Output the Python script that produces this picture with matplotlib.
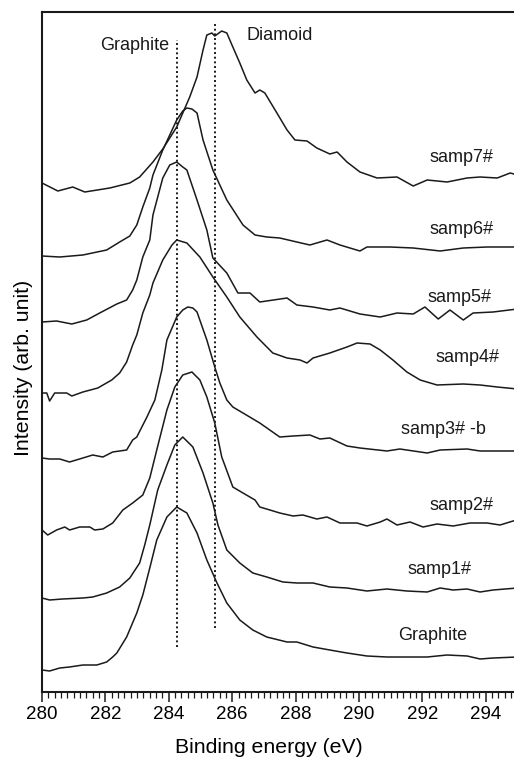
import matplotlib
matplotlib.use("Agg")
import matplotlib.pyplot as plt
from matplotlib.ticker import MultipleLocator

plt.rcParams['font.family'] = ['Liberation Sans', 'DejaVu Sans']

# ---- data: binding energy (eV) and intensity (arb. unit, stacked) ----
e_samp7 = [280.0, 280.50, 280.97, 281.35, 282.14, 282.77, 283.08, 283.50, 283.81, 284.25, 284.66, 284.89,
           285.08, 285.20, 285.36, 285.45, 285.67, 285.83, 286.02, 286.24, 286.46, 286.72, 286.87, 287.03,
           287.41, 287.73, 287.98, 288.36, 288.67, 289.08, 289.31, 289.62, 290.03, 290.57, 291.20, 291.71,
           292.15, 292.78, 293.41, 293.82, 294.36, 294.77, 295.0]
i_samp7 = [509, 501, 505, 500, 504, 509, 515, 530, 543, 565, 595, 615,
           642, 657, 659, 656, 661, 659, 645, 629, 612, 599, 602, 599,
           579, 562, 552, 551, 544, 538, 540, 530, 520, 514, 515, 506,
           512, 510, 514, 515, 514, 519, 517]

e_samp6 = [280.0, 280.56, 281.29, 282.04, 282.45, 282.77, 282.99, 283.18, 283.40, 283.50, 283.81, 284.25,
           284.44, 284.57, 284.73, 284.89, 285.08, 285.39, 285.83, 286.34, 286.72, 287.09, 287.50, 288.04,
           288.45, 288.99, 289.40, 290.03, 290.25, 290.98, 291.71, 292.56, 293.29, 294.04, 295.0]
i_samp6 = [436, 435, 437, 442, 450, 456, 467, 485, 504, 517, 542, 572,
           581, 584, 583, 579, 552, 522, 492, 467, 457, 455, 454, 450,
           447, 452, 447, 441, 445, 445, 444, 441, 444, 445, 445]

e_samp5 = [280.0, 280.46, 280.94, 281.41, 281.82, 282.36, 282.67, 282.86, 282.99, 283.18, 283.40, 283.50,
           283.81, 284.03, 284.25, 284.44, 284.57, 284.89, 285.20, 285.39, 285.83, 286.18, 286.56, 286.87,
           287.73, 288.04, 288.55, 289.08, 289.40, 290.03, 290.67, 291.20, 291.71, 292.08, 292.50, 292.87,
           293.29, 293.60, 294.23, 295.0]
i_samp5 = [370, 371, 368, 372, 379, 388, 392, 402, 412, 435, 452, 477,
           514, 527, 530, 525, 522, 492, 462, 434, 419, 399, 399, 390,
           394, 387, 385, 382, 384, 378, 375, 379, 378, 385, 373, 382,
           372, 379, 380, 383]

e_samp4 = [280.0, 280.15, 280.24, 280.40, 280.78, 280.94, 281.29, 281.76, 282.20, 282.45, 282.67, 282.86,
           282.99, 283.18, 283.40, 283.50, 283.81, 284.10, 284.25, 284.57, 284.98, 285.39, 285.83, 286.24,
           286.78, 287.28, 287.73, 288.14, 288.36, 288.55, 289.08, 289.62, 289.94, 290.35, 290.67, 291.07,
           291.51, 291.93, 292.46, 293.29, 293.82, 294.36, 295.0]
i_samp4 = [299, 299, 291, 299, 299, 296, 300, 304, 312, 319, 330, 347,
           357, 379, 397, 409, 432, 447, 452, 449, 435, 415, 395, 375,
           355, 339, 334, 332, 329, 334, 339, 345, 349, 348, 342, 332,
           320, 312, 307, 308, 307, 305, 303]

e_samp3 = [280.0, 280.24, 280.56, 280.87, 281.29, 281.60, 281.92, 282.23, 282.67, 282.86, 282.99, 283.31,
           283.56, 283.78, 283.94, 284.25, 284.44, 284.60, 284.76, 284.89, 285.20, 285.45, 285.61, 285.83,
           286.02, 286.34, 286.87, 287.50, 287.92, 288.45, 288.77, 289.08, 289.62, 290.03, 290.88, 291.29,
           292.15, 292.56, 293.41, 293.82, 295.0]
i_samp3 = [234, 233, 233, 230, 234, 237, 235, 240, 242, 252, 255, 275,
           292, 322, 352, 375, 382, 385, 384, 380, 352, 325, 309, 292,
           285, 279, 269, 255, 256, 257, 253, 254, 246, 244, 241, 243,
           239, 242, 243, 241, 241]

e_samp2 = [280.0, 280.18, 280.46, 280.72, 280.87, 281.19, 281.51, 281.66, 281.92, 282.23, 282.55, 282.86,
           283.18, 283.40, 283.62, 283.94, 284.19, 284.44, 284.73, 284.98, 285.20, 285.45, 285.67, 286.02,
           286.34, 286.72, 286.87, 287.19, 287.50, 287.92, 288.23, 288.67, 288.99, 289.40, 289.94, 290.25,
           290.67, 290.88, 291.20, 291.61, 292.02, 292.46, 292.97, 293.50, 294.04, 294.45, 294.86, 295.0]
i_samp2 = [162, 157, 162, 165, 162, 165, 165, 162, 163, 169, 182, 189,
           197, 214, 242, 282, 305, 317, 320, 312, 295, 269, 235, 205,
           199, 192, 185, 182, 179, 176, 177, 173, 175, 169, 169, 166,
           170, 173, 167, 170, 165, 168, 166, 169, 169, 167, 171, 172]

e_samp1 = [280.0, 280.24, 280.65, 281.29, 281.60, 282.04, 282.45, 282.77, 283.08, 283.24, 283.40, 283.65,
           283.94, 284.19, 284.44, 284.76, 285.08, 285.39, 285.55, 285.83, 286.24, 286.65, 287.09, 287.60,
           288.04, 288.55, 289.08, 289.62, 290.25, 290.88, 291.51, 292.15, 292.56, 292.97, 293.41, 293.82,
           294.23, 295.0]
i_samp1 = [94, 92, 93, 94, 95, 99, 105, 114, 129, 147, 167, 202,
           227, 247, 255, 245, 219, 189, 167, 142, 129, 119, 115, 110,
           109, 109, 105, 104, 101, 103, 101, 100, 104, 102, 103, 100,
           102, 104]

e_graph = [280.0, 280.24, 280.56, 280.87, 281.29, 281.73, 282.04, 282.23, 282.36, 282.67, 282.99, 283.18,
           283.40, 283.62, 283.94, 284.25, 284.57, 284.89, 285.20, 285.52, 285.83, 286.24, 286.65, 287.09,
           287.73, 288.04, 288.55, 289.08, 289.62, 290.25, 290.88, 292.15, 292.78, 293.41, 293.82, 294.23,
           295.0]
i_graph = [22, 21, 24, 25, 27, 27, 30, 35, 39, 55, 79, 97,
           124, 152, 175, 185, 179, 159, 132, 109, 89, 72, 62, 55,
           50, 50, 45, 42, 39, 36, 35, 35, 37, 36, 33, 34,
           35]

sample_names = ["samp7#", "samp6#", "samp5#", "samp4#", "samp3# -b", "samp2#", "samp1#", "Graphite"]
energies = [e_samp7, e_samp6, e_samp5, e_samp4, e_samp3, e_samp2, e_samp1, e_graph]
intensities = [i_samp7, i_samp6, i_samp5, i_samp4, i_samp3, i_samp2, i_samp1, i_graph]

# reference peak positions (eV)
ref_names = ["Graphite", "Diamoid"]
ref_energy = [284.25, 285.45]

# ---- layout ----
label_pos = [(293.22, 534), (293.22, 462), (293.16, 395), (293.41, 335),
             (292.65, 262), (293.22, 186), (292.53, 123), (292.31, 57)]
ref_line_span = [(45, 652), (64, 670)]
ref_label_pos = [(282.92, 647), (287.51, 657)]

W, H = 514, 758
fig = plt.figure(figsize=(W / 100, H / 100), dpi=100)
ax = fig.add_axes([42 / W, 1 - 692 / H, 475.5 / W, 680 / H])

for e, i in zip(energies, intensities):
    ax.plot(e, i, color='#1a1a1a', lw=1.1)

for x, (y0, y1) in zip(ref_energy, ref_line_span):
    ax.vlines(x, y0, y1, colors='#1a1a1a', linestyles=(0, (1, 1.4)), lw=1.4)

for name, (x, y) in zip(sample_names, label_pos):
    ax.text(x, y, name, ha='center', va='center', fontsize=13, color='#1a1a1a')
for name, (x, y) in zip(ref_names, ref_label_pos):
    ax.text(x, y, name, ha='center', va='center', fontsize=13, color='#1a1a1a')

ax.set_xlim(280, 295)
ax.set_ylim(0, 680)
ax.set_yticks([])
ax.xaxis.set_major_locator(MultipleLocator(2))
ax.xaxis.set_minor_locator(MultipleLocator(0.2))
ax.tick_params(axis='x', which='major', length=7, width=1.1, labelsize=13.5, pad=3, color='#1a1a1a')
ax.tick_params(axis='x', which='minor', length=4, width=0.9, color='#1a1a1a')
for s in ax.spines.values():
    s.set_linewidth(1.5)
    s.set_color('#1a1a1a')

ax.set_xlabel("Binding energy (eV)", fontsize=15.3)
ax.set_ylabel("Intensity (arb. unit)", fontsize=15.3)
ax.xaxis.set_label_coords(0.477, -0.068)
ax.yaxis.set_label_coords(-0.019, 0.476)

fig.savefig("out.png", dpi=100)
